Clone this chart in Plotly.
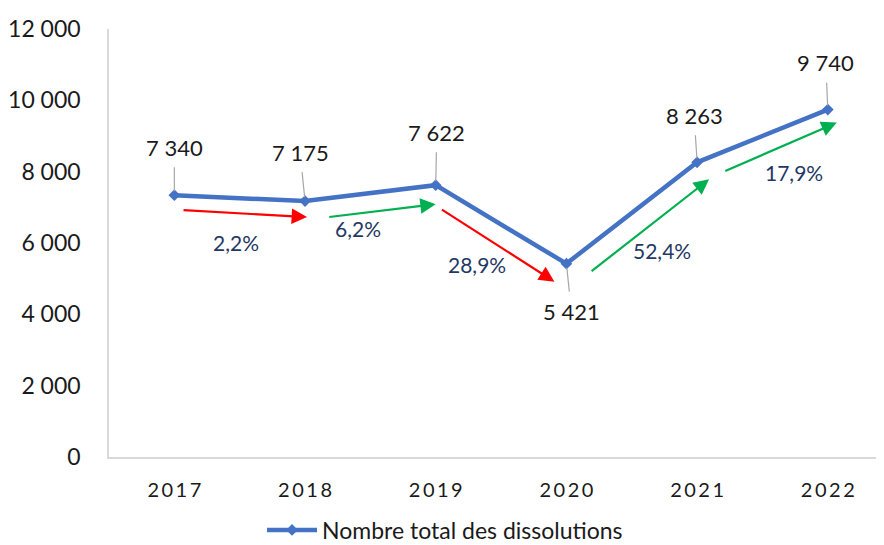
import plotly.graph_objects as go

years = ["2017", "2018", "2019", "2020", "2021", "2022"]
values = [7340, 7175, 7622, 5421, 8263, 9740]
y_ticks = [0, 2000, 4000, 6000, 8000, 10000, 12000]
series_name = "Nombre total des dissolutions"

FONT = "Lato"
LINE_COLOR = "#4472C4"
PCT_COLOR = "#1F3864"
UP = "#00B050"
DOWN = "#FF0000"

def fmt_thousands(v):
    return f"{v:,}".replace(",", " ")

def fmt_pct(a, b):
    p = abs(b / a - 1) * 100
    return f"{p:.1f}".replace(".", ",") + "%"

xs = list(range(len(years)))
spaced_years = ["\u2009".join(list(y)) for y in years]

fig = go.Figure()
fig.add_trace(go.Scatter(
    x=xs, y=values, mode="lines+markers", name=series_name,
    line=dict(color=LINE_COLOR, width=4.5),
    marker=dict(symbol="diamond", size=9, color=LINE_COLOR),
))

# data labels with leader lines (text offset from point in px)
label_off = [(0, -48), (-5, -49), (1, -53), (5, 48), (-3, -47), (-2, -47)]
for i, v in enumerate(values):
    ax, ay = label_off[i]
    fig.add_annotation(
        x=xs[i], y=v, xref="x", yref="y", text=fmt_thousands(v),
        showarrow=True, arrowhead=0, arrowwidth=1.2, arrowcolor="#A6A6A6",
        ax=ax, ay=ay, standoff=4, startstandoff=5,
        font=dict(family=FONT, size=22, color="#1a1a1a"),
    )

# trend arrows: head shift relative to next point, tail offset relative to head (px)
head_shift = [(2, -16), (0, -19), (-12, -18), (12, -17), (9, -13)]
tail_off = [(-125, -7), (-108, 13), (-114, -73), (-119, 93), (-113, 49)]
pct_shift = [(-4, -44), (-12, -35), (-24, -40), (30, -38), (32, -37)]
for i in range(len(values) - 1):
    color = UP if values[i + 1] > values[i] else DOWN
    hx, hy = head_shift[i]
    tx, ty = tail_off[i]
    fig.add_annotation(
        x=xs[i + 1], y=values[i + 1], xref="x", yref="y", text="",
        showarrow=True, arrowhead=2, arrowsize=1.4, arrowwidth=2.2,
        arrowcolor=color, ax=tx, ay=ty, xshift=hx, yshift=hy,
    )
    px, py = pct_shift[i]
    fig.add_annotation(
        x=(xs[i] + xs[i + 1]) / 2, y=(values[i] + values[i + 1]) / 2,
        xref="x", yref="y", text=fmt_pct(values[i], values[i + 1]),
        showarrow=False, xshift=px, yshift=py,
        font=dict(family=FONT, size=21, color=PCT_COLOR),
    )

fig.update_layout(
    width=876, height=537,
    margin=dict(l=99, r=0, t=21, b=88),
    paper_bgcolor="white", plot_bgcolor="white",
    font=dict(family=FONT, color="#1a1a1a"),
    showlegend=True,
    legend=dict(
        orientation="h", xref="container", yref="container",
        x=0.29, y=0.028, xanchor="left", yanchor="middle",
        font=dict(family=FONT, size=23, color="#1a1a1a"),
        itemwidth=50,
    ),
    xaxis=dict(
        tickmode="array", tickvals=xs, ticktext=spaced_years,
        range=[-0.5, 5.43], showgrid=False, zeroline=False,
        showline=True, linecolor="#D9D9D9", linewidth=1.5,
        ticks="", ticklabelstandoff=14,
        tickfont=dict(family=FONT, size=20, color="#1a1a1a"),
    ),
    yaxis=dict(
        range=[0, 12000], tickmode="array", tickvals=y_ticks,
        ticktext=[fmt_thousands(t) for t in y_ticks],
        showgrid=False, zeroline=False,
        showline=True, linecolor="#D9D9D9", linewidth=1.5,
        ticks="", ticklabelstandoff=22,
        tickfont=dict(family=FONT, size=23, color="#1a1a1a"),
    ),
)

fig.write_html("out.html")
